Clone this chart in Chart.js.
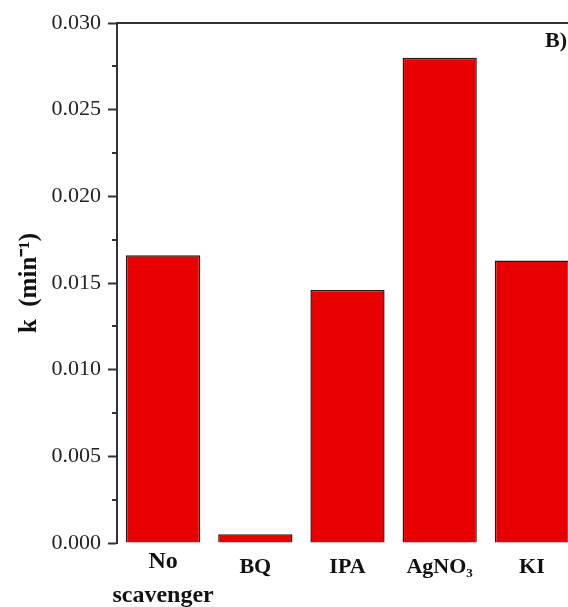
<!DOCTYPE html>
<html>
<head>
<meta charset="utf-8">
<script src="https://cdn.jsdelivr.net/npm/chart.js@4/dist/chart.umd.min.js"></script>
<style>
  html, body { margin: 0; padding: 0; background: #fff; overflow: hidden; }
  #wrap { width: 580px; height: 607px; }
</style>
</head>
<body>
<div id="wrap"><canvas id="c" width="580" height="607"></canvas></div>
<script>
// Rate constants for each scavenger
const categories = [["No", "scavenger"], "BQ", "IPA", "AgNO₃", "KI"];
const rateK = [0.0166, 0.0005, 0.0146, 0.0280, 0.0163];
const yTicks = [0.000, 0.005, 0.010, 0.015, 0.020, 0.025, 0.030];
const yMinorTicks = [0.0025, 0.0075, 0.0125, 0.0175, 0.0225, 0.0275];
const panelLabel = "B)";

const AXIS = '#333333';
const SERIF = '"Liberation Serif", "Times New Roman", serif';

// Minor y ticks, top frame line and the panel letter
const framePlugin = {
  id: 'frame',
  afterDraw(chart) {
    const { ctx, chartArea, scales } = chart;
    const y = scales.y;
    ctx.save();
    ctx.strokeStyle = AXIS;
    ctx.lineWidth = 2;
    ctx.beginPath();
    ctx.moveTo(chartArea.left - 1, chartArea.top);
    ctx.lineTo(chartArea.right + 1, chartArea.top);
    ctx.moveTo(chartArea.right, chartArea.top);
    ctx.lineTo(chartArea.right, chartArea.bottom);
    yMinorTicks.forEach(v => {
      const py = Math.round(y.getPixelForValue(v));
      ctx.moveTo(chartArea.left - 5, py);
      ctx.lineTo(chartArea.left, py);
    });
    ctx.stroke();
    ctx.fillStyle = '#111';
    ctx.font = 'bold 22px ' + SERIF;
    ctx.textAlign = 'right';
    ctx.textBaseline = 'middle';
    ctx.fillText(panelLabel, 567, 41);
    ctx.restore();
  }
};

new Chart(document.getElementById('c'), {
  type: 'bar',
  data: {
    labels: categories,
    datasets: [{
      data: rateK,
      backgroundColor: '#E80000',
      borderColor: '#2a1515',
      borderWidth: 1.5,
      barPercentage: 0.805,
      categoryPercentage: 1.0
    }]
  },
  options: {
    responsive: false,
    animation: false,
    devicePixelRatio: 1,
    layout: { padding: { left: 0, right: 2, top: 23, bottom: 0 } },
    plugins: { legend: { display: false }, tooltip: { enabled: false } },
    scales: {
      x: {
        grid: { display: false, drawTicks: false },
        border: { display: false },
        ticks: {
          color: '#111',
          padding: 2,
          maxRotation: 0,
          autoSkip: false,
          font: ctx => ({ family: SERIF, weight: 'bold', size: ctx.index === 0 ? 24 : 22, lineHeight: ctx.index === 0 ? 1.42 : 2.05 })
        },
        afterFit: s => { s.height = 64; }
      },
      y: {
        min: 0,
        max: 0.030,
        afterBuildTicks: s => { s.ticks = yTicks.map(v => ({ value: v })); },
        grid: { drawOnChartArea: false, drawTicks: true, tickLength: 9, tickWidth: 2, tickColor: AXIS },
        border: { display: true, color: AXIS, width: 2 },
        ticks: {
          color: '#222',
          padding: 7,
          font: { family: SERIF, size: 22 },
          callback: v => Number(v).toFixed(3)
        },
        title: {
          display: true,
          text: 'k  (min⁻¹)',
          color: '#111',
          font: { family: SERIF, size: 25, weight: 'bold' },
          padding: { top: 15, bottom: 0 }
        },
        afterFit: s => { s.width = 117; }
      }
    }
  },
  plugins: [framePlugin]
});
</script>
</body>
</html>
